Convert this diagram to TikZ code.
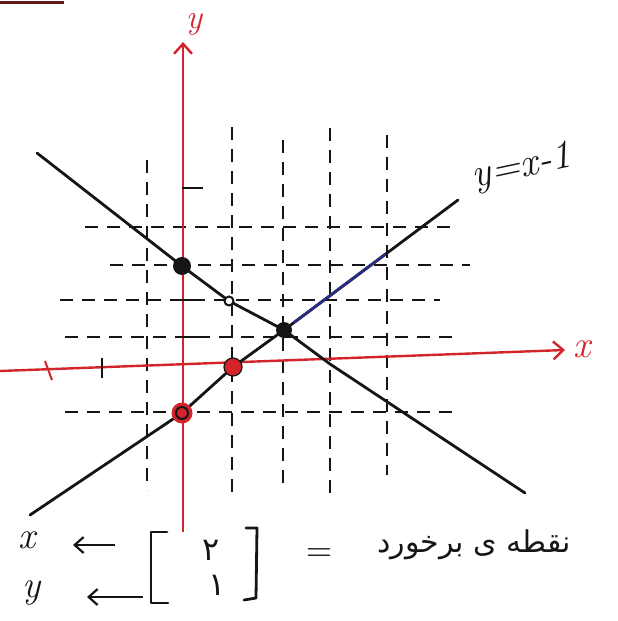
\documentclass[tikz,border=0pt]{standalone}
\usepackage{fontspec}
\usepackage{tikz}
\usetikzlibrary{arrows.meta,calc,positioning}
\TeXXeTstate=1
\newfontfamily\persianfont[Script=Arabic]{DejaVu Sans}
\definecolor{axisred}{HTML}{D3242B}
\definecolor{inkblack}{HTML}{151515}
\definecolor{inkblue}{HTML}{2A2C7E}
\definecolor{darkred}{HTML}{5C1A1A}
\tikzset{
  axis/.style={draw=axisred,line width=2.4pt,-{Straight Barb[length=10pt,width=18pt,line width=2.4pt]}},
  gridline/.style={draw=inkblack,line width=2pt,dash pattern=on 13pt off 9pt},
  graphline/.style={draw=#1,line width=2.8pt,line join=round,line cap=round},
  graphline/.default=inkblack,
  tickmark/.style={draw=#1,line width=2pt},
  tickmark/.default=inkblack,
  hand/.style={font=\fontsize{38}{42}\selectfont\itshape,inner sep=0pt,text=#1},
  hand/.default=inkblack,
  persian/.style={font=\persianfont\fontsize{#1}{#1}\selectfont,inner sep=0pt,text=inkblack},
  persian/.default=32,
  backarrow/.style={draw=inkblack,line width=2.2pt,-{Straight Barb[length=9pt,width=16pt,line width=2.2pt]}},
  bracket/.style={draw=inkblack,line width=2.8pt,line join=round,line cap=round},
  dot/.style={circle,inner sep=0pt,minimum size=#1,fill=inkblack}
}

\begin{document}
\begin{tikzpicture}[x=1pt,y=-1pt]
\useasboundingbox (0,0) rectangle (618,621);
\draw[draw=darkred,line width=3pt] (0,2) -- (64,2);
\foreach \gx/\ya/\yb in {147/160/490,232/127/500,283/140/490,330/128/500,387/135/475}
  \draw[gridline] (\gx,\ya) -- (\gx,\yb);
\foreach \gy/\xa/\xb in {227/85/455,265/110/470,300/60/440,337/65/460,412/65/460}
  \draw[gridline] (\xa,\gy) -- (\xb,\gy);
\draw[axis] (0,371) -- (565,350);
\draw[axis] (183,532) -- (183,42);
\draw[tickmark] (182,188) -- (203,188);
\draw[tickmark] (182,300) -- (198,300);
\draw[tickmark] (182,337) -- (198,337);
\draw[tickmark=axisred] (45,361) -- (52,380);
\draw[tickmark] (102,358) -- (102,378);
\node[hand=axisred,font=\fontsize{34}{38}\selectfont\itshape] (ylabel) at (194,24) {y};
\node[hand=axisred] (xlabel) at (582,349) {x};
\coordinate (l1a) at (30,515);
\coordinate (pyneg) at (182,413);
\coordinate (pxone) at (233,367);
\coordinate (pint) at (284,330);
\coordinate (l1b) at (458,200);
\coordinate (l2a) at (37,153);
\coordinate (pythree) at (182,266);
\coordinate (phalf) at (229,301);
\coordinate (pxthree) at (330,364);
\coordinate (l2b) at (525,493);
\draw[graphline] (l1a) -- (pyneg) -- (pxone) -- (pint) -- (l1b);
\draw[graphline=inkblue] ($(pint)!0.06!(l1b)$) -- ($(pint)!0.58!(l1b)$);
\draw[graphline] (l2a) -- (pythree) -- (phalf) -- (pint) -- (pxthree) -- (l2b);
\node[hand,font=\fontsize{40}{44}\selectfont\itshape,rotate=12] (linelabel) at (522,168) {y=x-1};
\node[dot=18pt] (dotthree) at (pythree) {};
\node[circle,draw=inkblack,fill=white,line width=2pt,minimum size=9pt,inner sep=0pt] (dothalf) at (phalf) {};
\node[dot=16pt] (dotint) at (pint) {};
\node[dot=18pt,fill=axisred,draw=inkblack,line width=1.2pt] (dotone) at (pxone) {};
\node[dot=21pt,fill=axisred] (dotneg) at (pyneg) {};
\node[circle,draw=inkblack,line width=2pt,minimum size=12pt,inner sep=0pt] (ringneg) at (pyneg) {};
\node[hand] (xname) at (27,540) {x};
\node[hand] (yname) at (32,593) {y};
\coordinate (xtail) at (115,545);
\coordinate (xhead) at (73,545);
\coordinate (ytail) at (143,597);
\coordinate (yhead) at (87,597);
\draw[backarrow] (xtail) -- (xhead);
\draw[backarrow] (ytail) -- (yhead);
\draw[bracket] (167,532) -- (151,532) -- (151,603) -- (168,603);
\draw[bracket] (246,528) -- (257,528) -- (256,598) -- (244,600);
\node[persian] (xval) at (211,550) {۲};
\node[persian] (yval) at (217,585) {۱};
\node[persian=30] (ptext) at (474,545) {\beginR نقطه ی برخورد\endR};
\node[font=\fontsize{36}{40}\selectfont,inner sep=0pt] (equal) at (319,555) {=};
\end{tikzpicture}
\end{document}
